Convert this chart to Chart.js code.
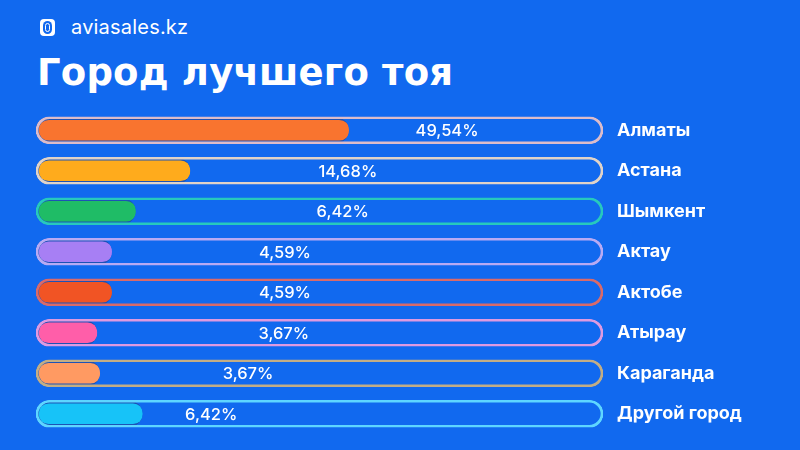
<!DOCTYPE html>
<html>
<head>
<meta charset="utf-8">
<script src="https://cdn.jsdelivr.net/npm/chart.js@4.4.1/dist/chart.umd.min.js"></script>
<style>
  html, body { margin: 0; padding: 0; }
  body { width: 800px; height: 450px; background: #1169ef; position: relative; overflow: hidden; font-family: Inter, 'Noto Sans', sans-serif; }
  .logo { position: absolute; left: 40px; top: 15px; display: flex; align-items: center; color: #fff; font-size: 20px; letter-spacing: 0.2px; }
  .logo .icon { width: 15px; height: 17px; background: #fff; border-radius: 4px; margin-right: 16px; position: relative; }
  .logo .icon::before { content: ''; position: absolute; left: 3px; top: 2px; width: 9px; height: 13px; border-radius: 5px; background: #1169ef; }
  .logo .icon::after { content: ''; position: absolute; left: 5px; top: 4px; width: 5px; height: 9px; border-radius: 3px; border: 1px solid #fff; box-sizing: border-box; }
  h1 { position: absolute; left: 37px; top: 51px; margin: 0; color: #fff; font-family: 'DejaVu Sans', sans-serif; font-size: 37px; font-weight: 700; letter-spacing: 0.2px; }
  #wrap { position: absolute; left: 0; top: 0; width: 800px; height: 450px; }
</style>
</head>
<body>
<div class="logo"><div class="icon"></div>aviasales.kz</div>
<h1>Город лучшего тоя</h1>
<div id="wrap"><canvas id="chart"></canvas></div>
<script>
const cities = ['Алматы', 'Астана', 'Шымкент', 'Актау', 'Актобе', 'Атырау', 'Караганда', 'Другой город'];
const shares = ['49,54%', '14,68%', '6,42%', '4,59%', '4,59%', '3,67%', '3,67%', '6,42%'];
// bar fill as drawn in the picture (not linear with the share), % of track
const barFill = [55.2, 27.2, 17.6, 13.4, 13.4, 10.8, 11.3, 18.8];
// where the % label sits along the track, % of track
const labelPos = [72.5, 55.0, 54.1, 43.9, 43.9, 43.7, 37.4, 30.9];
const trackMax = 100;

const fillColors = ['#f9742f', '#ffab1c', '#1fbc66', '#a77ff4', '#f15424', '#ff5ea9', '#ff9a62', '#17c3f8'];
const trackColors = ['#dcbcca', '#e0d3c8', '#27c9bd', '#b8aaf3', '#d96a6a', '#de9ae0', '#c2ad85', '#5ed6ff'];

const shareLabels = {
  id: 'shareLabels',
  afterDatasetsDraw(chart) {
    const { ctx, scales } = chart;
    ctx.save();
    ctx.fillStyle = '#fff';
    ctx.font = '500 16.5px Inter';
    ctx.textAlign = 'center';
    ctx.textBaseline = 'middle';
    shares.forEach((s, i) => {
      ctx.fillText(s, scales.x.getPixelForValue(labelPos[i]), scales.y.getPixelForValue(i) + 1);
    });
    ctx.restore();
  }
};

new Chart(document.getElementById('chart'), {
  type: 'bar',
  data: {
    labels: cities,
    datasets: [
      {
        data: barFill,
        backgroundColor: fillColors,
        borderColor: 'rgba(45,55,110,0.45)',
        borderWidth: { left: 3, top: 3, bottom: 3, right: 0 },
        borderSkipped: false,
        borderRadius: 13,
        barThickness: 26,
        grouped: false,
        order: 1
      },
      {
        data: cities.map(() => trackMax),
        backgroundColor: 'rgba(0,0,0,0)',
        borderColor: trackColors,
        borderWidth: 2,
        borderSkipped: false,
        borderRadius: 14,
        barThickness: 27,
        grouped: false,
        order: 0
      }
    ]
  },
  options: {
    indexAxis: 'y',
    responsive: true,
    maintainAspectRatio: false,
    animation: false,
    layout: { padding: { left: 36, right: 0, top: 110, bottom: 16 } },
    scales: {
      x: { min: 0, max: trackMax, display: false },
      y: {
        position: 'right',
        grid: { display: false, drawTicks: false },
        border: { display: false },
        ticks: { color: '#fff', padding: 14, font: { family: 'Inter', size: 18, weight: 700 } },
        afterFit(scale) {
          scale.width = 197;
          scale.paddingTop = 0;
          scale.paddingBottom = 0;
        }
      }
    },
    plugins: {
      legend: { display: false },
      tooltip: { enabled: false }
    }
  },
  plugins: [shareLabels]
});
</script>
</body>
</html>
